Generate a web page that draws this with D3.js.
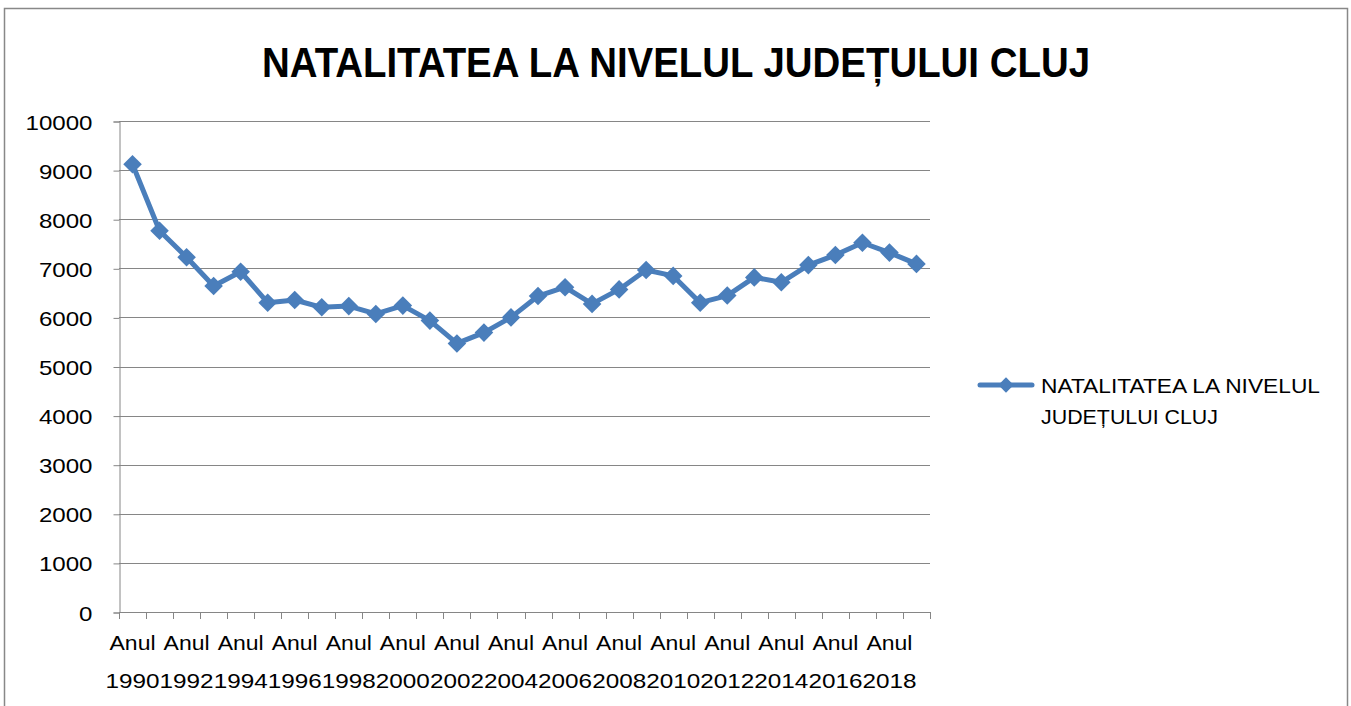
<!DOCTYPE html>
<html lang="ro">
<head>
<meta charset="UTF-8">
<title>Natalitatea Cluj</title>
<script src="https://d3js.org/d3.v7.min.js"></script>
<style>
    body { margin: 0; background: #fff; }
    svg { display: block; }
    text { font-family: "Liberation Sans", sans-serif; fill: #000; }
</style>
</head>
<body>
<script>
    // date
    const years = d3.range(1990, 2020)
    const births = [9120, 7765, 7225, 6640, 6930, 6300, 6355, 6205, 6230, 6070,
                    6240, 5935, 5470, 5690, 6000, 6435, 6615, 6275, 6570, 6965,
                    6845, 6300, 6445, 6815, 6715, 7065, 7270, 7520, 7320, 7090]
    const yTicks = [0, 1000, 2000, 3000, 4000, 5000, 6000, 7000, 8000, 9000, 10000]
    const title = "NATALITATEA LA NIVELUL JUDEȚULUI CLUJ"
    const legendLines = ["NATALITATEA LA NIVELUL", "JUDEȚULUI CLUJ"]

    const width = 1351, height = 706
    const blue = "#4a7ebb"
    const svg = d3.select("body").append("svg")
        .attr("width", width).attr("height", height)

    // chenar
    svg.append("rect")
        .attr("x", 4.5).attr("y", 8.5)
        .attr("width", 1343).attr("height", 720)
        .attr("fill", "none").attr("stroke", "#888").attr("stroke-width", 1.5)

    svg.append("text")
        .attr("x", 676).attr("y", 77)
        .attr("text-anchor", "middle")
        .attr("font-size", 43).attr("font-weight", "bold")
        .attr("textLength", 828).attr("lengthAdjust", "spacingAndGlyphs")
        .text(title)

    const x = d3.scaleBand().domain(years).range([119, 930])
    const y = d3.scaleLinear().domain([0, 10000]).range([612, 121])

    // grid
    svg.append("g").selectAll("line")
        .data(yTicks.slice(1))
        .join("line")
        .attr("x1", 119).attr("x2", 930)
        .attr("y1", d => Math.round(y(d)) + 0.5).attr("y2", d => Math.round(y(d)) + 0.5)
        .attr("stroke", "#868686")

    const yAxis = svg.append("g")
        .attr("transform", "translate(119.5,0.5)")
        .call(d3.axisLeft(y).tickValues(yTicks).tickSize(6).tickPadding(21).tickFormat(d3.format("d")))
    yAxis.select(".domain").attr("stroke", "#868686")
    yAxis.selectAll(".tick line").attr("stroke", "#868686")
    yAxis.selectAll("text").attr("font-size", 21).attr("dy", "0.36em")
        .attr("textLength", d => String(d).length * 13.4).attr("lengthAdjust", "spacingAndGlyphs")
        .style("font-family", "'Liberation Sans', sans-serif")

    // axa x
    svg.append("line")
        .attr("x1", 119).attr("x2", 930).attr("y1", 612.5).attr("y2", 612.5)
        .attr("stroke", "#868686")
    svg.append("g").selectAll("line")
        .data(years.concat([2020]))
        .join("line")
        .attr("x1", d => Math.round(d === 2020 ? x.range()[1] : x(d)) + 0.5)
        .attr("x2", d => Math.round(d === 2020 ? x.range()[1] : x(d)) + 0.5)
        .attr("y1", 612).attr("y2", 619)
        .attr("stroke", "#868686")

    const labelYears = years.filter(d => d % 2 === 0)
    const xl = svg.append("g").selectAll("g")
        .data(labelYears)
        .join("g")
        .attr("transform", d => `translate(${x(d) + x.bandwidth() / 2},0)`)
    xl.append("text").attr("y", 650).attr("text-anchor", "middle").attr("font-size", 21)
        .attr("textLength", 46).attr("lengthAdjust", "spacingAndGlyphs").text("Anul")
    xl.append("text").attr("y", 688).attr("text-anchor", "middle").attr("font-size", 21)
        .attr("textLength", 54).attr("lengthAdjust", "spacingAndGlyphs").text(d => d)

    // serie
    const cx = d => x(d) + x.bandwidth() / 2
    const line = d3.line().x((d, i) => cx(years[i])).y(d => y(d))
    svg.append("path")
        .datum(births)
        .attr("d", line)
        .attr("fill", "none").attr("stroke", blue).attr("stroke-width", 5)
        .attr("stroke-linejoin", "round")

    const diamond = d3.symbol().type(d3.symbolDiamond2).size(220)
    svg.append("g").selectAll("path")
        .data(births)
        .join("path")
        .attr("transform", (d, i) => `translate(${cx(years[i])},${y(d)})`)
        .attr("d", diamond)
        .attr("fill", blue)

    // legenda
    svg.append("line")
        .attr("x1", 980).attr("x2", 1032).attr("y1", 385).attr("y2", 385)
        .attr("stroke", blue).attr("stroke-width", 5).attr("stroke-linecap", "round")
    svg.append("path")
        .attr("transform", "translate(1006,385)")
        .attr("d", d3.symbol().type(d3.symbolDiamond2).size(150))
        .attr("fill", blue)
    const legendLen = [279, 177]
    svg.append("g").selectAll("text")
        .data(legendLines)
        .join("text")
        .attr("x", 1041).attr("y", (d, i) => 393 + i * 31)
        .attr("font-size", 21)
        .attr("textLength", (d, i) => legendLen[i]).attr("lengthAdjust", "spacingAndGlyphs")
        .text(d => d)
</script>
</body>
</html>
